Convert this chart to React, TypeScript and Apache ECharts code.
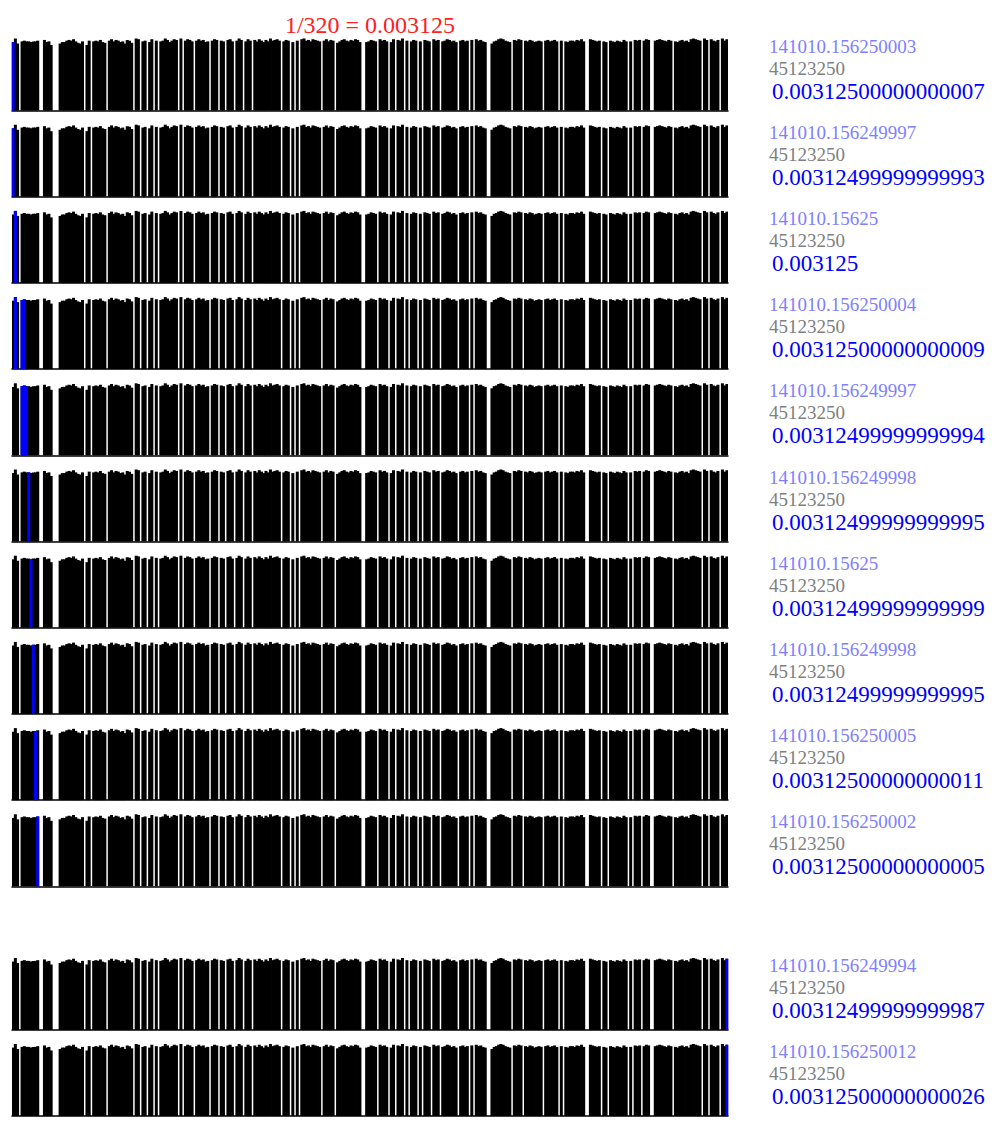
import React, { useEffect, useRef } from "react";
import * as echarts from "echarts";

// Bar heights (same in every panel), 320 slots
const valuesA = [
  95, 100, 93, 0, 96, 97, 96, 96, 95, 96,
  96, 97, 0, 0, 98, 95, 96, 91, 0, 0,
  0, 93, 95, 95, 97, 98, 97, 99, 96, 94,
  93, 96, 0, 91, 97, 0, 96, 97, 96, 98,
  95, 94, 0, 97, 99, 96, 98, 97, 95, 96,
  93, 98, 97, 94, 0, 100, 99, 0, 96, 97,
  0, 95, 99, 0, 97, 0, 96, 97, 100, 98,
  95, 97, 99, 98, 0, 100, 0, 97, 99, 98,
];
const valuesB = [
  96, 0, 97, 99, 97, 98, 95, 96, 0, 97,
  99, 98, 0, 97, 96, 0, 98, 99, 96, 0,
  97, 100, 98, 0, 96, 99, 97, 0, 98, 96,
  99, 97, 95, 98, 96, 100, 97, 98, 99, 97,
  0, 96, 98, 97, 0, 95, 0, 97, 0, 99,
  100, 97, 98, 96, 99, 98, 97, 96, 0, 97,
  99, 96, 98, 97, 0, 94, 96, 98, 99, 97,
  96, 98, 97, 99, 98, 95, 0, 0, 95, 96,
];
const valuesC = [
  98, 97, 96, 0, 99, 97, 98, 96, 0, 95,
  99, 0, 98, 97, 100, 0, 97, 0, 96, 98,
  97, 0, 96, 0, 98, 97, 96, 0, 99, 97,
  98, 0, 96, 97, 99, 98, 96, 97, 95, 0,
  97, 98, 96, 97, 0, 98, 0, 99, 97, 98,
  96, 95, 0, 0, 93, 96, 97, 99, 100, 99,
  97, 96, 95, 0, 98, 97, 99, 98, 0, 97,
  96, 98, 97, 95, 96, 97, 96, 0, 97, 98,
];
const valuesD = [
  96, 97, 98, 96, 0, 97, 0, 96, 95, 97,
  97, 96, 98, 97, 99, 96, 0, 0, 99, 98,
  97, 96, 97, 0, 96, 95, 0, 97, 96, 95,
  97, 96, 95, 98, 96, 0, 96, 0, 98, 97,
  98, 0, 97, 99, 98, 0, 0, 97, 98, 99,
  98, 97, 96, 98, 97, 0, 96, 95, 97, 98,
  96, 97, 95, 99, 100, 99, 98, 97, 0, 100,
  98, 0, 99, 97, 96, 98, 0, 100, 97, 99,
];
const values = [...valuesA, ...valuesB, ...valuesC, ...valuesD];
const categories = values.map((_, i) => String(i + 1));

// Highlighted (blue) slots in each of the 12 panels
const highlightIdx = [[0], [0], [1], [1, 4, 5], [4, 5, 6], [7], [8], [9], [10], [11], [319], [319]];

const titleText = "1/320 = 0.003125";
const sumTexts = [
  "141010.156250003", "141010.156249997", "141010.15625", "141010.156250004",
  "141010.156249997", "141010.156249998", "141010.15625", "141010.156249998",
  "141010.156250005", "141010.156250002", "141010.156249994", "141010.156250012",
];
const countTexts = Array(12).fill("45123250");
const meanTexts = [
  "0.00312500000000007", "0.00312499999999993", "0.003125", "0.00312500000000009",
  "0.00312499999999994", "0.00312499999999995", "0.00312499999999999", "0.00312499999999995",
  "0.00312500000000011", "0.00312500000000005", "0.00312499999999987", "0.00312500000000026",
];

const W = 997;
const H = 1127;

function baselineOf(i: number) {
  if (i < 10) return 110.5 + 86.2 * i;
  return i === 10 ? 1030 : 1116;
}

export default function App() {
  const ref = useRef<HTMLDivElement>(null);
  useEffect(() => {
    if (!ref.current) return;
    const chart = echarts.init(ref.current, undefined, { renderer: "svg" });
    const grids: any[] = [];
    const xAxes: any[] = [];
    const yAxes: any[] = [];
    const series: any[] = [];
    const graphic: any[] = [];
    const serif = "'Liberation Serif', 'DejaVu Serif', serif";
    for (let p = 0; p < 12; p++) {
      const base = baselineOf(p);
      grids.push({ left: 12, width: 716, top: base - 72, height: 72 });
      xAxes.push({
        type: "category",
        gridIndex: p,
        data: categories,
        axisLine: { show: true, lineStyle: { color: "#000", width: 1.5 } },
        axisTick: { show: false },
        axisLabel: { show: false },
        splitLine: { show: false },
      });
      yAxes.push({ type: "value", gridIndex: p, min: 0, max: 100, show: false, splitLine: { show: false } });
      series.push({
        type: "bar",
        xAxisIndex: p,
        yAxisIndex: p,
        data: values,
        barWidth: 3,
        barGap: "-100%",
        itemStyle: { color: "#000" },
        silent: true,
      });
      const hl = values.map((v, i) => (highlightIdx[p].includes(i) ? v : "-"));
      series.push({
        type: "bar",
        xAxisIndex: p,
        yAxisIndex: p,
        data: hl,
        barWidth: 3,
        barGap: "-100%",
        itemStyle: { color: "#0000ff", borderColor: "#0000ff", borderWidth: 1.5 },
        z: 3,
        silent: true,
      });
      graphic.push({
        type: "text",
        left: 769,
        top: base - 74,
        style: { text: sumTexts[p], fill: "#8080ff", font: `19px ${serif}` },
      });
      graphic.push({
        type: "text",
        left: 769,
        top: base - 52,
        style: { text: countTexts[p], fill: "#808080", font: `19px ${serif}` },
      });
      graphic.push({
        type: "text",
        left: 772,
        top: base - 31,
        style: { text: meanTexts[p], fill: "#0000ff", font: `23px ${serif}` },
      });
    }
    graphic.push({
      type: "text",
      x: 370,
      y: 25,
      style: {
        text: titleText,
        fill: "#ff2020",
        font: `24px ${serif}`,
        textAlign: "center",
        textVerticalAlign: "middle",
      },
    });
    chart.setOption({
      animation: false,
      backgroundColor: "#fff",
      grid: grids,
      xAxis: xAxes,
      yAxis: yAxes,
      series,
      graphic,
    });
    return () => chart.dispose();
  }, []);
  return (
    <div
      ref={ref}
      style={{ position: "absolute", left: 0, top: 0, width: W, height: H }}
    />
  );
}
